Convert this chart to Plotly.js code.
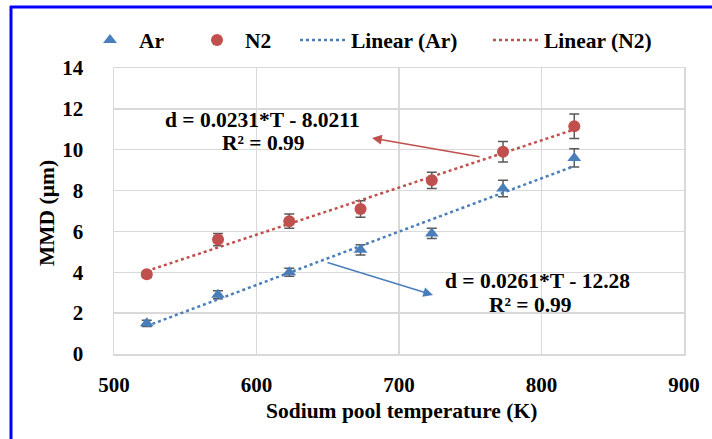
<!DOCTYPE html>
<html>
<head>
<meta charset="utf-8">
<script src="https://cdn.plot.ly/plotly-3.0.1.min.js"></script>
<style>html,body{margin:0;padding:0;background:#fff;} #chart{width:712px;height:439px;}</style>
</head>
<body>
<div id="chart"></div>
<script>
// Data
const temperature = [523, 573, 623, 673, 723, 773, 823];
const mmdAr = [1.5, 2.9, 4.0, 5.1, 5.9, 8.1, 9.6];
const errAr = [0.15, 0.2, 0.2, 0.25, 0.25, 0.4, 0.45];
const mmdN2 = [3.9, 5.6, 6.5, 7.1, 8.5, 9.9, 11.15];
const errN2 = [0.15, 0.3, 0.35, 0.4, 0.4, 0.5, 0.6];
const trendX = [523, 823];
const trendAr = [1.37, 9.20];
const trendN2 = [4.06, 10.99];
const xTicks = [500, 600, 700, 800, 900];
const yTicks = [0, 2, 4, 6, 8, 10, 12, 14];

const FONT = 'Liberation Serif';
const blue = '#4a7ebb';
const red = '#c0504d';
const grid = '#d9d9d9';
const f = (s) => ({family: FONT, size: s, color: '#000000', weight: 'bold'});
const FS = 21.5;

const ml = 114, mr = 28, mt = 68, mb = 85;
const pw = 712 - ml - mr, ph = 439 - mt - mb;
const px = v => (v - ml) / pw;
const py = v => (439 - mb - v) / ph;

const traces = [
  {x: temperature, y: mmdAr, name: 'Ar', type: 'scatter', mode: 'markers', legend: 'legend',
   marker: {symbol: 'triangle-up', size: 12, color: blue},
   error_y: {type: 'data', array: errAr, visible: true, color: '#595959', thickness: 1.5, width: 5}},
  {x: temperature, y: mmdN2, name: 'N2', type: 'scatter', mode: 'markers', legend: 'legend2',
   marker: {symbol: 'circle', size: 12, color: red},
   error_y: {type: 'data', array: errN2, visible: true, color: '#595959', thickness: 1.5, width: 5}},
  {x: trendX, y: trendAr, name: 'Linear (Ar)', type: 'scatter', mode: 'lines', legend: 'legend3',
   line: {color: blue, width: 2.5, dash: 'dot'}},
  {x: trendX, y: trendN2, name: 'Linear (N2)', type: 'scatter', mode: 'lines', legend: 'legend4',
   line: {color: red, width: 2.5, dash: 'dot'}}
];

const legendBase = (xpx, iw) => ({orientation: 'h', x: px(xpx), y: py(40), yanchor: 'middle', xanchor: 'left',
  font: f(FS), bgcolor: 'rgba(0,0,0,0)', itemwidth: iw, borderwidth: 0});

const layout = {
  width: 712, height: 439,
  margin: {l: ml, r: mr, t: mt, b: mb},
  paper_bgcolor: '#ffffff', plot_bgcolor: '#ffffff',
  font: f(FS),
  showlegend: true,
  legend: legendBase(81, 48),
  legend2: legendBase(189, 46),
  legend3: legendBase(295, 46),
  legend4: legendBase(488, 46),
  xaxis: {range: [500, 900], tickvals: xTicks, ticktext: xTicks.map(String),
          showgrid: true, gridcolor: grid, gridwidth: 1.5,
          showline: true, linecolor: grid, linewidth: 1.5, mirror: true,
          zeroline: false, ticks: '', ticklabelstandoff: 11,
          tickfont: f(21),
          title: {text: '', font: f(FS)}},
  yaxis: {range: [0, 14], tickvals: yTicks, ticktext: yTicks.map(String),
          showgrid: true, gridcolor: grid, gridwidth: 1.5,
          showline: true, linecolor: grid, linewidth: 1.5, mirror: true,
          zeroline: false, ticks: '', ticklabelstandoff: 25,
          tickfont: f(21),
          title: {text: '', font: f(FS)}},
  annotations: [
    {xref: 'paper', yref: 'paper', x: px(47), y: py(213), text: 'MMD (µm)', textangle: -90,
     xanchor: 'center', yanchor: 'middle', showarrow: false, font: f(FS)},
    {xref: 'paper', yref: 'paper', x: px(401), y: py(411), text: 'Sodium pool temperature (K)',
     xanchor: 'center', yanchor: 'middle', showarrow: false, font: f(FS)},
    {xref: 'paper', yref: 'paper', x: px(262), y: py(120), text: 'd = 0.0231*T - 8.0211',
     xanchor: 'center', yanchor: 'middle', showarrow: false, font: f(FS)},
    {xref: 'paper', yref: 'paper', x: px(263), y: py(143), text: 'R² = 0.99',
     xanchor: 'center', yanchor: 'middle', showarrow: false, font: f(FS)},
    {xref: 'paper', yref: 'paper', x: px(537), y: py(281), text: 'd = 0.0261*T - 12.28',
     xanchor: 'center', yanchor: 'middle', showarrow: false, font: f(FS)},
    {xref: 'paper', yref: 'paper', x: px(530), y: py(305), text: 'R² = 0.99',
     xanchor: 'center', yanchor: 'middle', showarrow: false, font: f(FS)},
    {xref: 'paper', yref: 'paper', x: px(372), y: py(138), ax: px(481), ay: py(157),
     axref: 'paper', ayref: 'paper', text: '', showarrow: true, arrowhead: 2,
     arrowsize: 1.3, arrowwidth: 1.5, arrowcolor: red},
    {xref: 'paper', yref: 'paper', x: px(433), y: py(295), ax: px(326), ay: py(262),
     axref: 'paper', ayref: 'paper', text: '', showarrow: true, arrowhead: 2,
     arrowsize: 1.3, arrowwidth: 1.5, arrowcolor: blue}
  ],
  shapes: [
    {type: 'line', xref: 'paper', yref: 'paper', x0: px(11), x1: px(11), y0: py(6), y1: py(439),
     line: {color: '#0000ff', width: 3}},
    {type: 'line', xref: 'paper', yref: 'paper', x0: px(10), x1: px(712), y0: py(7), y1: py(7),
     line: {color: '#0000ff', width: 3}}
  ]
};

Plotly.newPlot('chart', traces, layout, {displayModeBar: false, staticPlot: true});
</script>
</body>
</html>
